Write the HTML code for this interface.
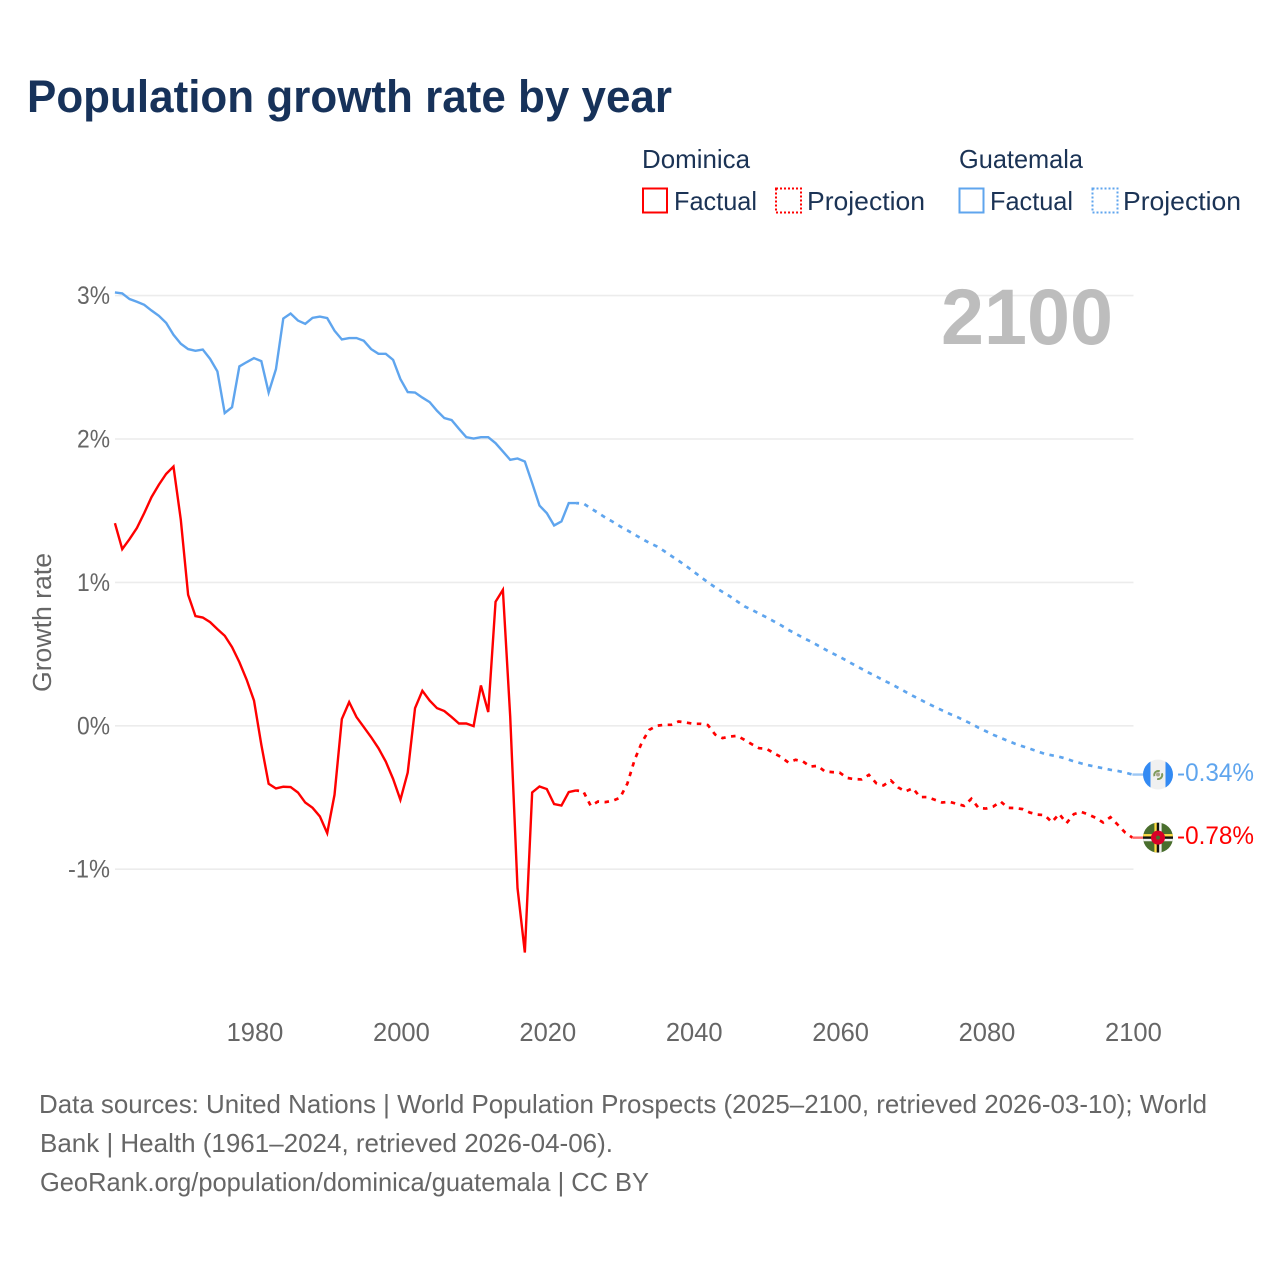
<!DOCTYPE html>
<html lang="en">
<head>
<meta charset="utf-8">
<title>Population growth rate by year</title>
<style>
html,body{margin:0;padding:0;background:#fff;}
svg{display:block;font-family:"Liberation Sans",sans-serif;}
</style>
</head>
<body>
<svg id="chart" xmlns="http://www.w3.org/2000/svg" width="1280" height="1280" viewBox="0 0 1280 1280">
  <rect x="0" y="0" width="1280" height="1280" fill="#fff"/>
  <text x="27" y="112" font-size="45" font-weight="700" fill="#17325a" textLength="645" lengthAdjust="spacingAndGlyphs">Population growth rate by year</text>

  <g font-size="26" fill="#1b3355">
    <text x="642" y="168" textLength="108" lengthAdjust="spacingAndGlyphs">Dominica</text>
    <text x="959" y="168" textLength="124" lengthAdjust="spacingAndGlyphs">Guatemala</text>
    <g>
      <rect x="643" y="188.5" width="24" height="24" fill="none" stroke="#ff0000" stroke-width="2"/>
      <text x="674" y="210" textLength="83" lengthAdjust="spacingAndGlyphs">Factual</text>
    </g>
    <g>
      <rect x="776" y="188.5" width="25" height="24" fill="none" stroke="#ff0000" stroke-width="2" stroke-dasharray="2 2"/>
      <text x="807" y="210" textLength="118" lengthAdjust="spacingAndGlyphs">Projection</text>
    </g>
    <g>
      <rect x="959.5" y="188.5" width="24" height="24" fill="none" stroke="#5fa5ee" stroke-width="2"/>
      <text x="990" y="210" textLength="83" lengthAdjust="spacingAndGlyphs">Factual</text>
    </g>
    <g>
      <rect x="1092.5" y="188.5" width="25" height="24" fill="none" stroke="#5fa5ee" stroke-width="2" stroke-dasharray="2 2"/>
      <text x="1123" y="210" textLength="118" lengthAdjust="spacingAndGlyphs">Projection</text>
    </g>
  </g>

  <g id="grid"></g>
  <g id="yticks"></g>
  <g id="xticks"></g>
  <text transform="translate(51,622.5) rotate(-90)" text-anchor="middle" font-size="25.5" fill="#666" textLength="139" lengthAdjust="spacingAndGlyphs">Growth rate</text>
  <text x="941" y="344" font-size="79" font-weight="700" fill="#bdbdbd" textLength="172" lengthAdjust="spacingAndGlyphs">2100</text>

  <g id="series"></g>

  <g id="flag-guatemala">
    <clipPath id="clip-gt"><circle cx="0" cy="0" r="15"/></clipPath>
    <g clip-path="url(#clip-gt)">
      <rect x="-15" y="-15" width="30" height="30" fill="#f0f0f0"/>
      <rect x="-15" y="-15" width="7.5" height="30" fill="#338af3"/>
      <rect x="7.5" y="-15" width="7.5" height="30" fill="#338af3"/>
    </g>
    <circle cx="0" cy="0.5" r="4" fill="none" stroke="#7f9a5a" stroke-width="2" stroke-dasharray="9 4" transform="rotate(-25)"/>
    <circle cx="0" cy="0" r="2" fill="#a9a58c"/>
  </g>
  <g id="flag-dominica">
    <clipPath id="clip-dm"><circle cx="0" cy="0" r="15"/></clipPath>
    <g clip-path="url(#clip-dm)">
      <rect x="-15" y="-15" width="30" height="30" fill="#496e2d"/>
      <rect x="-3.6" y="-15" width="2.4" height="30" fill="#ffda44"/>
      <rect x="-1.2" y="-15" width="2.4" height="30" fill="#111"/>
      <rect x="1.2" y="-15" width="2.4" height="30" fill="#f0f0f0"/>
      <rect x="-15" y="-3.6" width="30" height="2.4" fill="#ffda44"/>
      <rect x="-15" y="-1.2" width="30" height="2.4" fill="#111"/>
      <rect x="-15" y="1.2" width="30" height="2.4" fill="#f0f0f0"/>
      <circle cx="0" cy="0" r="7" fill="#d80027"/>
      <circle cx="0" cy="0" r="2" fill="#496e2d"/>
    </g>
  </g>
  <text id="label-guatemala" x="1177" font-size="25" fill="#5fa5ee" textLength="77" lengthAdjust="spacingAndGlyphs"></text>
  <text id="label-dominica" x="1177" font-size="25" fill="#ff0000" textLength="77" lengthAdjust="spacingAndGlyphs"></text>

  <g font-size="26" fill="#666">
    <text x="39" y="1113" textLength="1168" lengthAdjust="spacingAndGlyphs">Data sources: United Nations | World Population Prospects (2025–2100, retrieved 2026-03-10); World</text>
    <text x="40" y="1152" textLength="573" lengthAdjust="spacingAndGlyphs">Bank | Health (1961–2024, retrieved 2026-04-06).</text>
    <text x="40" y="1191" textLength="609" lengthAdjust="spacingAndGlyphs">GeoRank.org/population/dominica/guatemala | CC BY</text>
  </g>
</svg>
<script>
var yTickValues = [3, 2, 1, 0, -1];
var yTickLabels = ["3%", "2%", "1%", "0%", "-1%"];
var xTickYears = [1980, 2000, 2020, 2040, 2060, 2080, 2100];
var factualStartYear = 1961;
var projectionStartYear = 2024;

var dominicaFactual = [1.413,1.232,1.302,1.379,1.483,1.595,1.681,1.757,1.808,1.437,
  0.914,0.765,0.755,0.723,0.674,0.628,0.549,0.444,0.321,0.176,
  -0.132,-0.404,-0.437,-0.425,-0.427,-0.465,-0.535,-0.572,-0.632,-0.748,
  -0.481,0.047,0.165,0.061,-0.009,-0.079,-0.156,-0.249,-0.370,-0.516,
  -0.326,0.123,0.244,0.176,0.123,0.103,0.061,0.016,0.016,-0.002,
  0.281,0.096,0.865,0.948,0.065,-1.132,-1.581,-0.465,-0.423,-0.441,
  -0.546,-0.556,-0.462,-0.451];

var dominicaProjection = [-0.451,-0.458,-0.558,-0.528,-0.532,-0.523,-0.502,-0.404,-0.237,-0.114,
  -0.028,0.000,0.007,0.007,0.030,0.023,0.014,0.014,0.005,-0.061,
  -0.086,-0.075,-0.070,-0.098,-0.128,-0.156,-0.160,-0.190,-0.218,-0.256,
  -0.237,-0.249,-0.284,-0.279,-0.319,-0.323,-0.326,-0.363,-0.372,-0.374,
  -0.342,-0.400,-0.416,-0.381,-0.430,-0.458,-0.435,-0.497,-0.497,-0.516,
  -0.535,-0.530,-0.544,-0.558,-0.509,-0.574,-0.577,-0.563,-0.528,-0.572,
  -0.574,-0.581,-0.605,-0.619,-0.623,-0.672,-0.614,-0.679,-0.616,-0.600,
  -0.619,-0.642,-0.674,-0.637,-0.690,-0.744,-0.78];

var guatemalaFactual = [3.022,3.015,2.976,2.957,2.936,2.896,2.859,2.810,2.727,2.664,
  2.627,2.615,2.624,2.559,2.471,2.181,2.222,2.506,2.536,2.564,
  2.543,2.324,2.487,2.840,2.875,2.826,2.803,2.845,2.854,2.843,
  2.755,2.694,2.704,2.704,2.685,2.627,2.594,2.594,2.552,2.418,
  2.327,2.324,2.289,2.257,2.197,2.146,2.132,2.071,2.013,2.003,
  2.013,2.013,1.971,1.913,1.855,1.864,1.843,1.692,1.536,1.483,
  1.397,1.425,1.553,1.553];

var guatemalaProjection = [1.553,1.550,1.517,1.485,1.452,1.423,1.391,1.363,1.333,1.304,
  1.276,1.252,1.220,1.185,1.151,1.116,1.077,1.039,1.001,0.966,
  0.934,0.903,0.868,0.833,0.809,0.782,0.757,0.729,0.701,0.669,
  0.642,0.614,0.589,0.561,0.533,0.506,0.481,0.453,0.425,0.397,
  0.370,0.345,0.317,0.293,0.265,0.237,0.209,0.183,0.157,0.132,
  0.108,0.084,0.063,0.038,0.014,-0.014,-0.038,-0.063,-0.084,-0.105,
  -0.126,-0.143,-0.160,-0.178,-0.195,-0.206,-0.216,-0.230,-0.248,-0.262,
  -0.275,-0.286,-0.296,-0.307,-0.315,-0.326,-0.34];

var NS = "http://www.w3.org/2000/svg";
function xScale(year) { return 254 + (year - 1980) * 7.32; }
function yScale(v) { return 725.8 - v * 143.4; }

function pathFrom(values, startYear) {
  return values.map(function (v, i) {
    return (i ? "L" : "M") + xScale(startYear + i).toFixed(2) + " " + yScale(v).toFixed(2);
  }).join(" ");
}

function drawLine(name, d, color, dash) {
  var p = document.createElementNS(NS, "path");
  p.setAttribute("d", d);
  p.setAttribute("fill", "none");
  p.setAttribute("stroke", color);
  p.setAttribute("stroke-width", dash ? "2.7" : "2.4");
  p.setAttribute("stroke-linejoin", "miter");
  if (dash) { p.setAttribute("stroke-dasharray", dash); p.setAttribute("stroke-dashoffset", "1.5"); }
  
  
  document.getElementById("series").appendChild(p);
}

yTickValues.forEach(function (v, i) {
  var line = document.createElementNS(NS, "line");
  line.setAttribute("x1", 115);
  line.setAttribute("x2", 1133.5);
  line.setAttribute("y1", yScale(v));
  line.setAttribute("y2", yScale(v));
  line.setAttribute("stroke", "#ececec");
  line.setAttribute("stroke-width", "1.6");
  
  
  document.getElementById("grid").appendChild(line);

  var t = document.createElementNS(NS, "text");
  t.textContent = yTickLabels[i];
  t.setAttribute("x", 110);
  t.setAttribute("y", yScale(v) + 8.5);
  t.setAttribute("text-anchor", "end");
  t.setAttribute("font-size", "25");
  t.setAttribute("fill", "#666");
  t.setAttribute("textLength", yTickLabels[i].length > 2 ? 42 : 33);
  t.setAttribute("lengthAdjust", "spacingAndGlyphs");
  
  
  document.getElementById("yticks").appendChild(t);
});

xTickYears.forEach(function (year) {
  var t = document.createElementNS(NS, "text");
  t.textContent = String(year);
  t.setAttribute("x", xScale(year) + 1);
  t.setAttribute("y", 1041);
  t.setAttribute("text-anchor", "middle");
  t.setAttribute("font-size", "25.5");
  t.setAttribute("fill", "#666");
  
  
  document.getElementById("xticks").appendChild(t);
});

var endYear = projectionStartYear + dominicaProjection.length - 1;
var dmEnd = dominicaProjection[dominicaProjection.length - 1];
var gtEnd = guatemalaProjection[guatemalaProjection.length - 1];
var endX = xScale(endYear);

drawLine("guatemala-factual-line", pathFrom(guatemalaFactual, factualStartYear), "#5fa5ee", null);
drawLine("guatemala-projection-line", pathFrom(guatemalaProjection, projectionStartYear), "#5fa5ee", "4.5 5.5");
drawLine("dominica-factual-line", pathFrom(dominicaFactual, factualStartYear), "#ff0000", null);
drawLine("dominica-projection-line", pathFrom(dominicaProjection, projectionStartYear), "#ff0000", "4.5 5.5");
drawLine("guatemala-end-connector", "M" + endX + " " + yScale(gtEnd) + " L" + (endX + 12) + " " + yScale(gtEnd), "#9cc7f4", null);
drawLine("dominica-end-connector", "M" + endX + " " + yScale(dmEnd) + " L" + (endX + 12) + " " + yScale(dmEnd), "#ff6a6a", null);

document.getElementById("flag-guatemala").setAttribute("transform", "translate(1158," + yScale(gtEnd) + ")");
document.getElementById("flag-dominica").setAttribute("transform", "translate(1158," + yScale(dmEnd) + ")");

var gtLabel = document.getElementById("label-guatemala");
gtLabel.textContent = gtEnd.toFixed(2) + "%";
gtLabel.setAttribute("y", yScale(gtEnd) + 6.5);
var dmLabel = document.getElementById("label-dominica");
dmLabel.textContent = dmEnd.toFixed(2) + "%";
dmLabel.setAttribute("y", yScale(dmEnd) + 6.5);
</script>
</body>
</html>
